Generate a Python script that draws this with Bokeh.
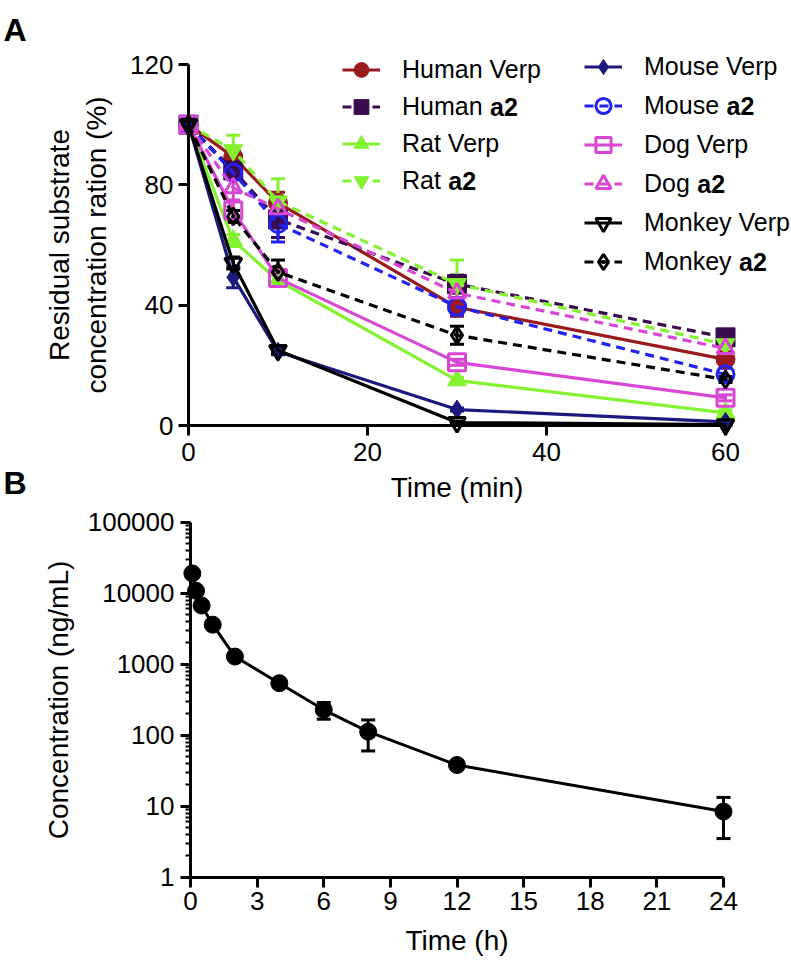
from bokeh.plotting import figure
from bokeh.layouts import column
from bokeh.models import (FixedTicker, PrintfTickFormatter, Legend, LegendItem,
                          Label, Whisker, ColumnDataSource, TeeHead)
from bokeh.embed import file_html
from bokeh.resources import INLINE

# ---------------- Panel A data ----------------
times_min = [0, 5, 10, 30, 60]
human_verp = [100, 89.3, 74.0, 39.3, 22.0]
human_verp_sd = [0, 2.0, 3.5, 3.0, 1.0]
human_a2 = [100, 84.8, 68.5, 47.0, 29.3]
human_a2_sd = [0, 3.0, 6.0, 3.0, 1.0]
rat_verp = [100, 61.5, 48.2, 15.0, 4.2]
rat_verp_sd = [0, 2.0, 2.0, 1.0, 1.0]
rat_a2 = [100, 91.5, 74.5, 47.0, 27.0]
rat_a2_sd = [0, 5.0, 7.5, 8.0, 1.0]
mouse_verp = [100, 49.3, 24.5, 5.3, 1.2]
mouse_verp_sd = [0, 3.5, 1.0, 0.5, 0.5]
mouse_a2 = [100, 84.0, 67.0, 39.5, 17.0]
mouse_a2_sd = [0, 2.0, 6.0, 3.0, 2.0]
dog_verp = [100, 71.5, 49.0, 21.0, 9.2]
dog_verp_sd = [0, 3.0, 2.0, 1.0, 1.0]
dog_a2 = [100, 79.0, 72.0, 44.0, 25.6]
dog_a2_sd = [0, 4.0, 3.0, 2.0, 1.0]
monkey_verp = [100, 54.0, 25.0, 1.0, 0.3]
monkey_verp_sd = [0, 2.0, 1.0, 0.5, 0.3]
monkey_a2 = [100, 69.5, 51.0, 30.0, 15.3]
monkey_a2_sd = [0, 2.0, 4.0, 3.0, 1.0]

a_x_ticks = [0, 20, 40, 60]
a_y_ticks = [0, 40, 80, 120]

# ---------------- Panel B data ----------------
times_h = [0.083, 0.25, 0.5, 1, 2, 4, 6, 8, 12, 24]
conc = [19000, 10800, 6700, 3600, 1280, 540, 228, 112, 38, 8.4]
conc_sd = [1500, 800, 500, 300, 100, 40, 60, 52, 4, 4.9]

b_x_ticks = [0, 3, 6, 9, 12, 15, 18, 21, 24]
b_y_ticks = [1, 10, 100, 1000, 10000, 100000]
b_y_minor = [k * 10 ** d for d in range(5) for k in range(2, 10)]

# ---------------- styles ----------------
FONT = "Liberation Sans"
TICK_FS = "26px"
LABEL_FS = "28px"
LEG_PX = 25
LEG_FS = "%dpx" % LEG_PX

series = [
    # (prefix, bold suffix, values, sd, color, marker, filled, dashed, legend column)
    ("Human Verp", "", human_verp, human_verp_sd, "#9a1b1e", "circle", True, False, 0),
    ("Human", "a2", human_a2, human_a2_sd, "#3a0b4f", "square", True, True, 0),
    ("Rat Verp", "", rat_verp, rat_verp_sd, "#84f230", "triangle", True, False, 0),
    ("Rat", "a2", rat_a2, rat_a2_sd, "#84f230", "inverted_triangle", True, True, 0),
    ("Mouse Verp", "", mouse_verp, mouse_verp_sd, "#1c1a7c", "diamond", True, False, 1),
    ("Mouse", "a2", mouse_a2, mouse_a2_sd, "#2222f2", "circle", False, True, 1),
    ("Dog Verp", "", dog_verp, dog_verp_sd, "#d847d4", "square", False, False, 1),
    ("Dog", "a2", dog_a2, dog_a2_sd, "#d847d4", "triangle", False, True, 1),
    ("Monkey Verp", "", monkey_verp, monkey_verp_sd, "#000000", "inverted_triangle", False, False, 1),
    ("Monkey", "a2", monkey_a2, monkey_a2_sd, "#000000", "diamond_dot", False, True, 1),
]


def style_axis(ax, label, label_standoff, tick_standoff):
    ax.axis_label = label
    ax.axis_label_text_font = FONT
    ax.axis_label_text_font_size = LABEL_FS
    ax.axis_label_text_font_style = "normal"
    ax.axis_label_text_color = "black"
    ax.axis_label_standoff = label_standoff
    ax.major_label_text_font = FONT
    ax.major_label_text_font_size = TICK_FS
    ax.major_label_text_color = "black"
    ax.major_label_standoff = tick_standoff
    ax.axis_line_width = 3
    ax.axis_line_color = "black"
    ax.major_tick_line_width = 3
    ax.major_tick_line_color = "black"
    ax.major_tick_out = 10
    ax.major_tick_in = 0
    ax.minor_tick_line_width = 2
    ax.minor_tick_line_color = "black"
    ax.minor_tick_out = 5
    ax.minor_tick_in = 0


W = 791
# ================= Panel A (frame covers whole canvas, axes fixed at 0) =================
HA = 505
AX0_PX, AX60_PX = 188, 725      # pixel of x=0 / x=60
AY0_PX, AY120_PX = 425, 64      # pixel of y=0 / y=120
ppu_ax = (AX60_PX - AX0_PX) / 60.0
ppu_ay = (AY0_PX - AY120_PX) / 120.0
pA = figure(frame_width=W, frame_height=HA,
            x_range=(-AX0_PX / ppu_ax, (W - AX0_PX) / ppu_ax),
            y_range=(-(HA - AY0_PX) / ppu_ay, 120 + AY120_PX / ppu_ay),
            output_backend="svg", toolbar_location=None, min_border=0,
            min_border_left=0, min_border_right=0, min_border_top=0, min_border_bottom=0,
            outline_line_color=None, background_fill_color="white", border_fill_color="white")
pA.grid.visible = False
pA.xaxis.fixed_location = 0
pA.yaxis.fixed_location = 0
pA.xaxis.bounds = (0, 60)
pA.yaxis.bounds = (0, 120)
pA.xaxis.ticker = FixedTicker(ticks=a_x_ticks)
pA.yaxis.ticker = FixedTicker(ticks=a_y_ticks)
style_axis(pA.xaxis[0], "Time (min)", 8, 7)
style_axis(pA.yaxis[0], "Residual substrate\nconcentration ration (%)", 15, 5)

items_left, items_right = [], []
for prefix, bold, vals, sd, color, marker, filled, dashed, col in series:
    lr = pA.line(times_min, vals, line_color=color, line_width=3.2,
                 line_dash="9 6" if dashed else "solid")
    src = ColumnDataSource(dict(x=[t for t, e in zip(times_min, sd) if e > 0],
                                up=[v + e for v, e in zip(vals, sd) if e > 0],
                                lo=[v - e for v, e in zip(vals, sd) if e > 0]))
    pA.add_layout(Whisker(source=src, base="x", upper="up", lower="lo",
                          dimension="height", line_color=color, line_width=3,
                          upper_head=TeeHead(size=14, line_color=color, line_width=3),
                          lower_head=TeeHead(size=14, line_color=color, line_width=3)))
    sr = pA.scatter(times_min, vals, marker=marker, size=19 if filled else 17,
                    fill_color=color if filled else None,
                    line_color=color, line_width=1 if filled else 3)
    item = LegendItem(label=prefix, renderers=[lr, sr])
    (items_left if col == 0 else items_right).append(item)

GLW, STAND = 38, 22
L_X, L_TOP, L_H = 342, 51, 37
R_X, R_TOP, R_H = 584, 47, 39


def make_legend(items, x, top, h):
    bottom = top + len(items) * h
    return Legend(items=items, location=(x, HA - bottom), padding=0, margin=0,
                  glyph_width=GLW, glyph_height=h, label_height=h, spacing=0,
                  label_standoff=STAND, border_line_color=None, background_fill_alpha=0,
                  label_text_font=FONT, label_text_font_size=LEG_FS,
                  label_text_color="black")


pA.add_layout(make_legend(items_left, L_X, L_TOP, L_H))
pA.add_layout(make_legend(items_right, R_X, R_TOP, R_H))

# bold "a2" suffixes next to legend texts (Arial-metric advance widths of "Prefix ")
prefix_em = {"Human": 3.501, "Rat": 1.834, "Mouse": 3.279, "Dog": 2.112, "Monkey": 3.779}
row = {0: 0, 1: 0}
for prefix, bold, vals, sd, color, marker, filled, dashed, col in series:
    idx = row[col]
    row[col] += 1
    if not bold:
        continue
    x0, top, h = (L_X, L_TOP, L_H) if col == 0 else (R_X, R_TOP, R_H)
    cy = top + idx * h + h / 2.0
    tx = x0 + GLW + STAND + prefix_em[prefix] * LEG_PX
    pA.add_layout(Label(x=tx, y=HA - cy, x_units="screen", y_units="screen",
                        text=bold, text_font=FONT, text_font_size=LEG_FS,
                        text_font_style="bold", text_color="black",
                        text_baseline="middle", text_align="left"))

pA.add_layout(Label(x=3, y=HA - 29, x_units="screen", y_units="screen",
                    text="A", text_font=FONT, text_font_size="32px", text_font_style="bold",
                    text_color="black", text_baseline="alphabetic"))
pA.add_layout(Label(x=3, y=HA - 482, x_units="screen", y_units="screen",
                    text="B", text_font=FONT, text_font_size="32px", text_font_style="bold",
                    text_color="black", text_baseline="alphabetic"))

# ================= Panel B =================
B_TOP_PX = HA
HB = 461
BX0_PX, BX24_PX = 190, 723
BY1_PX, BY1E5_PX = 876.7, 521.7
ppu_bx = (BX24_PX - BX0_PX) / 24.0
ppd_by = (BY1_PX - BY1E5_PX) / 5.0
pB = figure(frame_width=W, frame_height=HB,
            x_range=(-BX0_PX / ppu_bx, (W - BX0_PX) / ppu_bx),
            y_range=(10 ** (-(B_TOP_PX + HB - BY1_PX) / ppd_by),
                     10 ** (5 + (BY1E5_PX - B_TOP_PX) / ppd_by)),
            y_axis_type="log",
            output_backend="svg", toolbar_location=None, min_border=0,
            min_border_left=0, min_border_right=0, min_border_top=0, min_border_bottom=0,
            outline_line_color=None, background_fill_color="white", border_fill_color="white")
pB.grid.visible = False
pB.xaxis.fixed_location = 1
pB.yaxis.fixed_location = 0
pB.xaxis.bounds = (0, 24)
pB.yaxis.bounds = (1, 100000)
pB.xaxis.ticker = FixedTicker(ticks=b_x_ticks)
pB.yaxis.ticker = FixedTicker(ticks=b_y_ticks, minor_ticks=b_y_minor)
pB.yaxis.formatter = PrintfTickFormatter(format="%d")
style_axis(pB.xaxis[0], "Time (h)", 11, 5)
style_axis(pB.yaxis[0], "Concentration (ng/mL)", 11, 6)

pB.line(times_h, conc, line_color="black", line_width=3)
srcB = ColumnDataSource(dict(x=times_h,
                             up=[c + s for c, s in zip(conc, conc_sd)],
                             lo=[c - s for c, s in zip(conc, conc_sd)]))
pB.add_layout(Whisker(source=srcB, base="x", upper="up", lower="lo", dimension="height",
                      line_color="black", line_width=3,
                      upper_head=TeeHead(size=14, line_color="black", line_width=3),
                      lower_head=TeeHead(size=14, line_color="black", line_width=3)))
pB.scatter(times_h, conc, marker="circle", size=17, fill_color="black", line_color="black")

layout = column(pA, pB, spacing=0)
open("out.html", "w").write(file_html(layout, INLINE))
